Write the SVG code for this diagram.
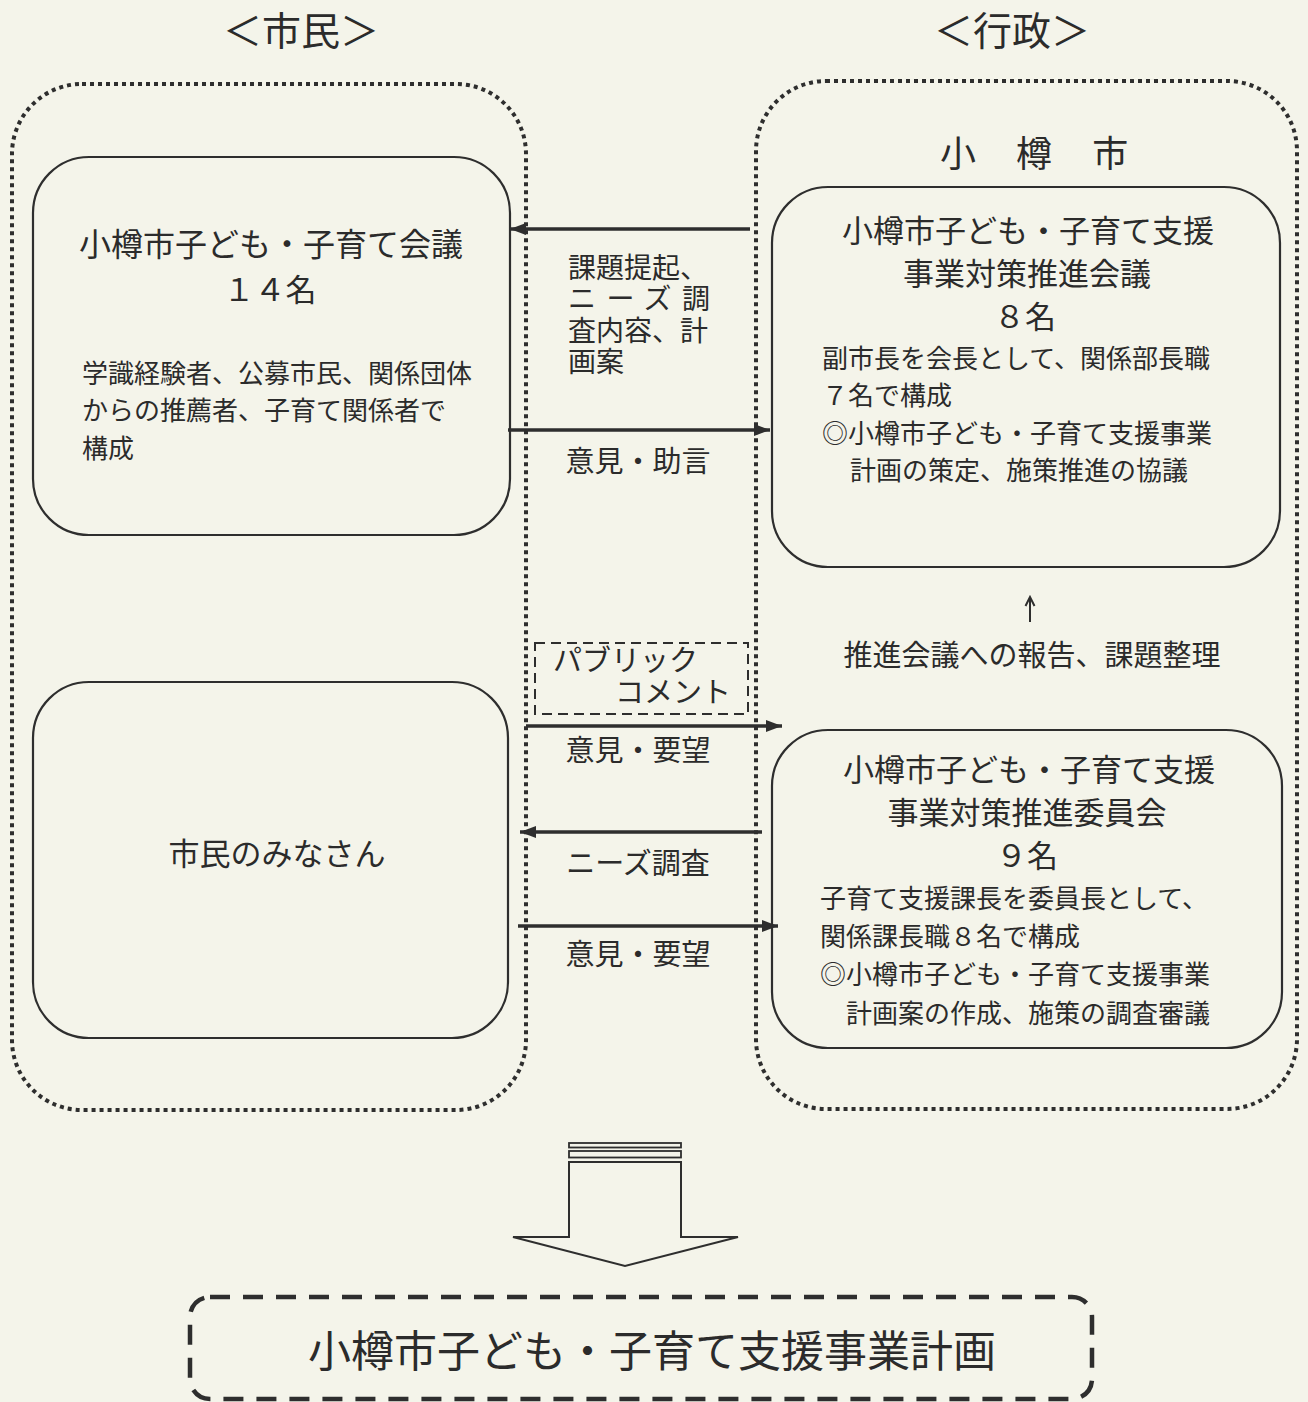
<svg xmlns="http://www.w3.org/2000/svg" width="1308" height="1402" viewBox="0 0 1308 1402">
<style>
text{font-family:"Noto Sans CJK JP","Noto Sans",sans-serif;fill:#2b2b2b}
.container{fill:none;stroke:#2e2e2e;stroke-width:4;stroke-dasharray:4 4}
.node{fill:none;stroke:#2e2e2e;stroke-width:2.2}
.conn{stroke:#2e2e2e;stroke-width:3.5;fill:none}
.t31{font-size:31px}
.t26{font-size:26px}
.t29{font-size:29px}
.mid{text-anchor:middle}
</style>
<defs>
<marker id="ah" markerUnits="userSpaceOnUse" markerWidth="18" markerHeight="14" refX="16" refY="7" orient="auto">
<path d="M0,1 L16,7 L0,13 Z" fill="#2e2e2e"/>
</marker>
<marker id="ahs" markerUnits="userSpaceOnUse" markerWidth="12" markerHeight="12" refX="10" refY="6" orient="auto">
<path d="M1,1.5 L10,6 L1,10.5" fill="none" stroke="#2e2e2e" stroke-width="2"/>
</marker>
</defs>
<rect width="1308" height="1402" fill="#f4f4ea"/>

<g id="group-shimin">
<text class="mid" x="301" y="45" font-size="39">＜市民＞</text>
<rect class="container" x="12" y="84" width="514" height="1026" rx="70"/>
</g>
<g id="group-gyosei">
<text class="mid" x="1012" y="45" font-size="39">＜行政＞</text>
<rect class="container" x="756" y="81" width="541" height="1028" rx="70"/>
<text x="940" y="167" font-size="36" letter-spacing="16">小 樽 市</text>
</g>

<g id="node-kaigi">
<rect class="node" x="33" y="157" width="477" height="378" rx="56"/>
<text class="mid" x="271" y="256" font-size="32">小樽市子ども・子育て会議</text>
<text class="t31 mid" x="270" y="301">１４名</text>
<text class="t26"><tspan x="82" y="383">学識経験者、公募市民、関係団体</tspan><tspan x="82" y="420">からの推薦者、子育て関係者で</tspan><tspan x="82" y="458">構成</tspan></text>
</g>

<g id="node-minasan">
<rect class="node" x="33" y="682" width="475" height="356" rx="56"/>
<text class="mid" x="277" y="865" font-size="31">市民のみなさん</text>
</g>

<g id="node-suishin-kaigi">
<rect class="node" x="772" y="187" width="508" height="380" rx="56"/>
<text class="t31 mid" x="1028" y="242">小樽市子ども・子育て支援</text>
<text class="t31 mid" x="1027" y="285">事業対策推進会議</text>
<text class="t31 mid" x="1025" y="328">８名</text>
<text class="t26"><tspan x="822" y="368">副市長を会長として、関係部長職</tspan><tspan x="822" y="405">７名で構成</tspan><tspan x="822" y="443">◎小樽市子ども・子育て支援事業</tspan><tspan x="850" y="480">計画の策定、施策推進の協議</tspan></text>
</g>

<g id="node-suishin-iinkai">
<rect class="node" x="772" y="730" width="510" height="318" rx="56"/>
<text class="t31 mid" x="1029" y="781">小樽市子ども・子育て支援</text>
<text class="t31 mid" x="1027" y="824">事業対策推進委員会</text>
<text class="t31 mid" x="1027" y="867">９名</text>
<text class="t26"><tspan x="820" y="908">子育て支援課長を委員長として、</tspan><tspan x="820" y="946">関係課長職８名で構成</tspan><tspan x="820" y="984">◎小樽市子ども・子育て支援事業</tspan><tspan x="846" y="1023">計画案の作成、施策の調査審議</tspan></text>
</g>

<g id="node-public-comment">
<rect x="535" y="643" width="213" height="71" fill="none" stroke="#2e2e2e" stroke-width="2" stroke-dasharray="10 6"/>
<text class="t29"><tspan x="553" y="671">パブリック</tspan><tspan x="615" y="703">コメント</tspan></text>
</g>

<g id="connectors">
<line class="conn" x1="750" y1="229" x2="510" y2="229" marker-end="url(#ah)"/>
<line class="conn" x1="508" y1="430" x2="770" y2="430" marker-end="url(#ah)"/>
<line class="conn" x1="526" y1="726" x2="782" y2="726" marker-end="url(#ah)"/>
<line class="conn" x1="762" y1="832" x2="520" y2="832" marker-end="url(#ah)"/>
<line class="conn" x1="518" y1="926" x2="778" y2="926" marker-end="url(#ah)"/>
<line x1="1030" y1="622" x2="1030" y2="597" stroke="#2e2e2e" stroke-width="2" marker-end="url(#ahs)"/>
<text font-size="28"><tspan x="568" y="278">課題提起、</tspan><tspan x="568" y="309" textLength="142" lengthAdjust="spacing">ニーズ調</tspan><tspan x="568" y="341">査内容、計</tspan><tspan x="568" y="372">画案</tspan></text>
<text class="t29 mid" x="638" y="472">意見・助言</text>
<text class="t29 mid" x="638" y="761">意見・要望</text>
<text class="t29 mid" x="638" y="874">ニーズ調査</text>
<text class="t29 mid" x="638" y="965">意見・要望</text>
<text class="t29 mid" x="1032" y="666">推進会議への報告、課題整理</text>
</g>

<g id="block-arrow">
<rect x="569" y="1143" width="112" height="4.5" fill="none" stroke="#2e2e2e" stroke-width="1.8"/>
<rect x="569" y="1151" width="112" height="6.5" fill="none" stroke="#2e2e2e" stroke-width="1.8"/>
<path d="M569,1162 H681 V1237 H738 L625,1266 L513,1237 H569 Z" fill="#f4f4ea" stroke="#2e2e2e" stroke-width="2"/>
</g>

<g id="node-plan">
<rect x="190" y="1297" width="902" height="102" rx="20" fill="none" stroke="#2e2e2e" stroke-width="4.5" stroke-dasharray="20 13"/>
<text class="mid" x="652" y="1367" font-size="43">小樽市子ども・子育て支援事業計画</text>
</g>
</svg>
